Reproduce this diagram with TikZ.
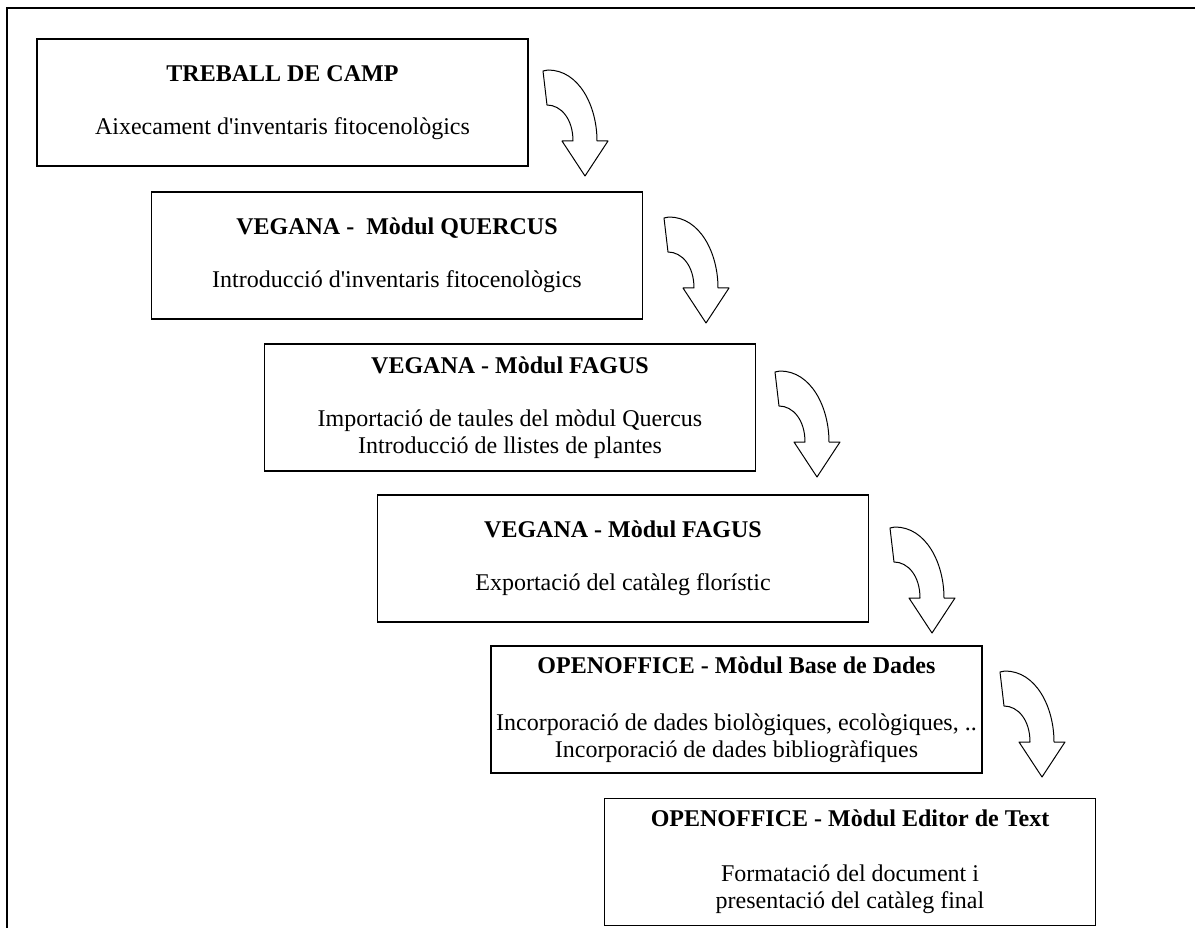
\documentclass[tikz,border=0pt]{standalone}
\usepackage{fontspec}
\setmainfont{Liberation Serif}
\usetikzlibrary{positioning}

\begin{document}
\begin{tikzpicture}[x=1pt,y=-1pt]
    \tikzstyle{stage}=[draw,line width=1.3pt,minimum width=491pt,minimum height=127pt,align=center,inner sep=0pt,font=\fontsize{24}{27}\selectfont]
    \tikzset{bendarrow/.pic={
        \draw[line width=1pt,line join=round] (0,0) -- (5,-1) .. controls (36,-1) and (54,35) .. (54,70) -- (65,70) -- (42,105) -- (19,70) -- (30,70) .. controls (30,48) and (18,34) .. (4,34) -- cycle;
    }}

    \useasboundingbox (0,0) rectangle (1195,928);
    \draw[line width=2pt] (7,928) -- (7,8) -- (1195,8);

    \node[stage] (camp) at (282.5,102.5) {\textbf{TREBALL DE CAMP}\\[26pt] Aixecament d\textquotesingle inventaris fitocenològics};
    \node[stage] (quercus) at (397,255.5) {\textbf{VEGANA -~\ Mòdul QUERCUS}\\[26pt] Introducció d\textquotesingle inventaris fitocenològics};
    \node[stage] (fagusin) at (510,407.5) {\textbf{VEGANA - Mòdul FAGUS}\\[26pt] Importació de taules del mòdul Quercus\\ Introducció de llistes de plantes};
    \node[stage] (fagusout) at (623,558.5) {\textbf{VEGANA - Mòdul FAGUS}\\[26pt] Exportació del catàleg florístic};
    \node[stage] (dades) at (736.5,709.5) {\textbf{OPENOFFICE - Mòdul Base de Dades}\\[30pt] Incorporació de dades biològiques, ecològiques, ..\\ Incorporació de dades bibliogràfiques};
    \node[stage] (editor) at (850,862) {\textbf{OPENOFFICE - Mòdul Editor de Text}\\[28pt] Formatació del document i\\ presentació del catàleg final};

    % corbes entre etapes
    \foreach \ax/\ay in {543/71,664/218,775/372,890/528,1000/672}
        \pic at (\ax,\ay) {bendarrow};
\end{tikzpicture}
\end{document}
